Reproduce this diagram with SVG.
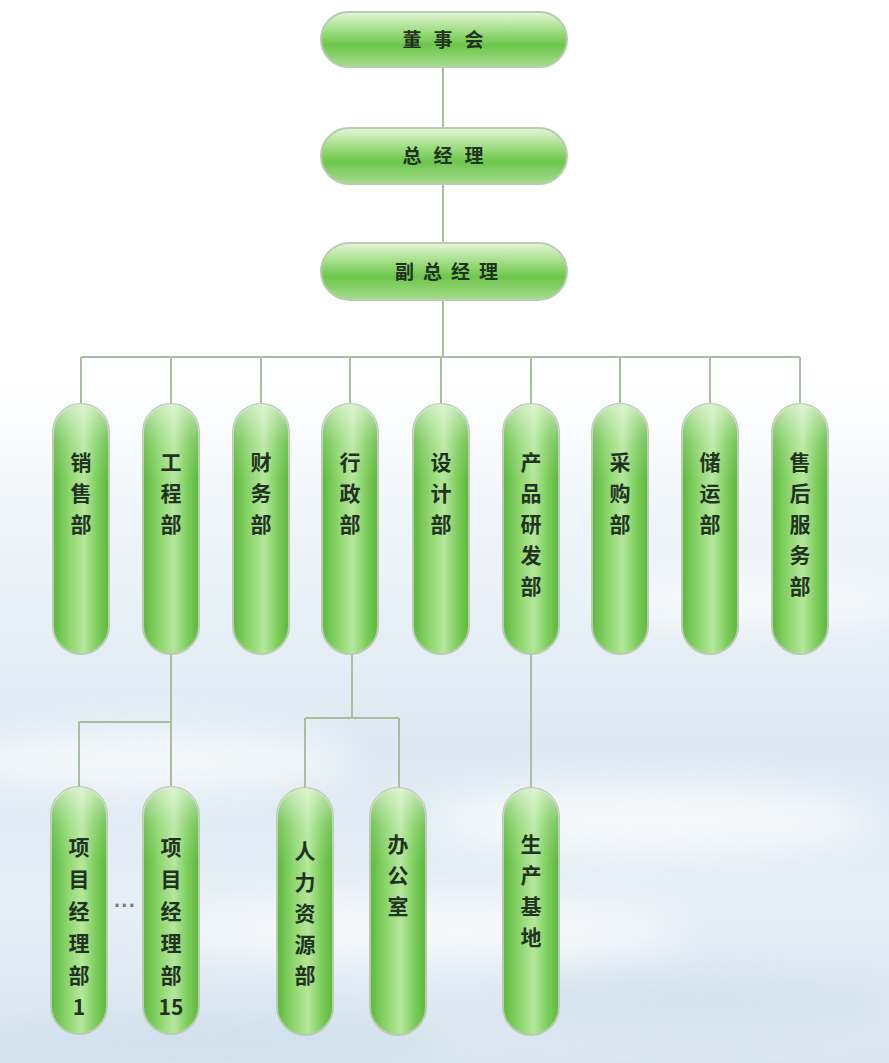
<svg xmlns="http://www.w3.org/2000/svg" width="889" height="1063" viewBox="0 0 889 1063">
<defs>
<linearGradient id="bg" x1="0" y1="0" x2="0" y2="1">
<stop offset="0" stop-color="#ffffff"/>
<stop offset="0.36" stop-color="#ffffff"/>
<stop offset="0.5" stop-color="#eef4f9"/>
<stop offset="0.7" stop-color="#dde9f2"/>
<stop offset="0.85" stop-color="#e6eef5"/>
<stop offset="1" stop-color="#d9e6f0"/>
</linearGradient>
<linearGradient id="hg" x1="0" y1="0" x2="0" y2="1">
<stop offset="0" stop-color="#e6f7dc"/>
<stop offset="0.3" stop-color="#a8e08c"/>
<stop offset="0.6" stop-color="#6cc64a"/>
<stop offset="1" stop-color="#a6dc8e"/>
</linearGradient>
<linearGradient id="vg" x1="0" y1="0" x2="1" y2="0">
<stop offset="0" stop-color="#5cb83e"/>
<stop offset="0.3" stop-color="#8ed66e"/>
<stop offset="0.55" stop-color="#b4e89c"/>
<stop offset="0.8" stop-color="#7ccc5a"/>
<stop offset="1" stop-color="#5cb83e"/>
</linearGradient>
<linearGradient id="vh" x1="0" y1="0" x2="0" y2="1">
<stop offset="0" stop-color="#ffffff" stop-opacity="0.55"/>
<stop offset="0.15" stop-color="#ffffff" stop-opacity="0.15"/>
<stop offset="0.3" stop-color="#ffffff" stop-opacity="0"/>
<stop offset="1" stop-color="#ffffff" stop-opacity="0"/>
</linearGradient>
<filter id="blur" x="-50%" y="-50%" width="200%" height="200%"><feGaussianBlur stdDeviation="18"/></filter>
</defs>
<style>
.h{fill:url(#hg);stroke:#b9ccb0;stroke-width:2}
.v{fill:url(#vg);stroke:#b9ccb0;stroke-width:2}
.vh{fill:url(#vh);stroke:none}
.t{font-family:"Noto Sans CJK SC","Noto Sans",sans-serif;font-weight:bold;font-size:21px;fill:#1f3320;text-anchor:middle}
.ht{font-family:"Noto Sans CJK SC","Noto Sans",sans-serif;font-weight:bold;font-size:19px;fill:#1f3320;text-anchor:middle;letter-spacing:12px}
.c{fill:none;stroke:#a9bda2;stroke-width:2}
.dots{font-family:"Liberation Sans",Arial,sans-serif;font-weight:bold;font-size:22px;fill:#7a8070;text-anchor:middle}
</style>
<rect x="0" y="0" width="889" height="1063" fill="url(#bg)"/>
<g opacity="0.7" filter="url(#blur)">
<ellipse cx="150" cy="760" rx="200" ry="30" fill="#ffffff"/>
<ellipse cx="650" cy="820" rx="220" ry="35" fill="#ffffff"/>
<ellipse cx="420" cy="930" rx="260" ry="30" fill="#ffffff"/>
<ellipse cx="750" cy="600" rx="160" ry="25" fill="#ffffff"/>
<ellipse cx="200" cy="1040" rx="240" ry="20" fill="#c8dbe9"/>
<ellipse cx="700" cy="1000" rx="200" ry="25" fill="#cfe0ec"/>
</g>
<g id="connectors">
<path class="c" d="M443 67V128M443 184V243M443 300V357M81 357H800"/>
<path class="c" d="M81 357V404M171 357V404M261 357V404M350 357V404M441 357V404M531 357V404M620 357V404M710 357V404M800 357V404"/>
<path class="c" d="M171 654V722M79 722H171M79 722V787M171 722V787"/>
<path class="c" d="M352 654V718M305 718H399M305 718V788M399 718V788"/>
<path class="c" d="M531 654V788"/>
</g>
<g id="n-dongshihui"><rect class="h" x="321" y="12" width="246" height="55" rx="27.5"/><text class="ht" x="449" y="47">董事会</text></g>
<g id="n-zongjingli"><rect class="h" x="321" y="128" width="246" height="56" rx="28"/><text class="ht" x="449" y="163">总经理</text></g>
<g id="n-fuzongjingli"><rect class="h" x="321" y="243" width="246" height="57" rx="28.5"/><text class="ht" x="451" y="279" style="letter-spacing:9px">副总经理</text></g>
<g id="n-xiaoshou"><rect class="v" x="53" y="404" width="56" height="250" rx="28"/><rect class="vh" x="53" y="404" width="56" height="250" rx="28"/><text class="t"><tspan x="81" y="470">销</tspan><tspan x="81" dy="31">售</tspan><tspan x="81" dy="31">部</tspan></text></g>
<g id="n-gongcheng"><rect class="v" x="143" y="404" width="56" height="250" rx="28"/><rect class="vh" x="143" y="404" width="56" height="250" rx="28"/><text class="t"><tspan x="171" y="470">工</tspan><tspan x="171" dy="31">程</tspan><tspan x="171" dy="31">部</tspan></text></g>
<g id="n-caiwu"><rect class="v" x="233" y="404" width="56" height="250" rx="28"/><rect class="vh" x="233" y="404" width="56" height="250" rx="28"/><text class="t"><tspan x="261" y="470">财</tspan><tspan x="261" dy="31">务</tspan><tspan x="261" dy="31">部</tspan></text></g>
<g id="n-xingzheng"><rect class="v" x="322" y="404" width="56" height="250" rx="28"/><rect class="vh" x="322" y="404" width="56" height="250" rx="28"/><text class="t"><tspan x="350" y="470">行</tspan><tspan x="350" dy="31">政</tspan><tspan x="350" dy="31">部</tspan></text></g>
<g id="n-sheji"><rect class="v" x="413" y="404" width="56" height="250" rx="28"/><rect class="vh" x="413" y="404" width="56" height="250" rx="28"/><text class="t"><tspan x="441" y="470">设</tspan><tspan x="441" dy="31">计</tspan><tspan x="441" dy="31">部</tspan></text></g>
<g id="n-chanpin"><rect class="v" x="503" y="404" width="56" height="250" rx="28"/><rect class="vh" x="503" y="404" width="56" height="250" rx="28"/><text class="t"><tspan x="531" y="470">产</tspan><tspan x="531" dy="31">品</tspan><tspan x="531" dy="31">研</tspan><tspan x="531" dy="31">发</tspan><tspan x="531" dy="31">部</tspan></text></g>
<g id="n-caigou"><rect class="v" x="592" y="404" width="56" height="250" rx="28"/><rect class="vh" x="592" y="404" width="56" height="250" rx="28"/><text class="t"><tspan x="620" y="470">采</tspan><tspan x="620" dy="31">购</tspan><tspan x="620" dy="31">部</tspan></text></g>
<g id="n-chuyun"><rect class="v" x="682" y="404" width="56" height="250" rx="28"/><rect class="vh" x="682" y="404" width="56" height="250" rx="28"/><text class="t"><tspan x="710" y="470">储</tspan><tspan x="710" dy="31">运</tspan><tspan x="710" dy="31">部</tspan></text></g>
<g id="n-shouhou"><rect class="v" x="772" y="404" width="56" height="250" rx="28"/><rect class="vh" x="772" y="404" width="56" height="250" rx="28"/><text class="t"><tspan x="800" y="470">售</tspan><tspan x="800" dy="31">后</tspan><tspan x="800" dy="31">服</tspan><tspan x="800" dy="31">务</tspan><tspan x="800" dy="31">部</tspan></text></g>
<g id="n-xiangmu1"><rect class="v" x="51" y="787" width="56" height="247" rx="28"/><rect class="vh" x="51" y="787" width="56" height="247" rx="28"/><text class="t"><tspan x="79" y="855">项</tspan><tspan x="79" dy="32">目</tspan><tspan x="79" dy="32">经</tspan><tspan x="79" dy="32">理</tspan><tspan x="79" dy="32">部</tspan><tspan x="79" dy="32">1</tspan></text></g>
<g id="n-ellipsis"><text class="dots" x="125" y="913">···</text></g>
<g id="n-xiangmu15"><rect class="v" x="143" y="787" width="56" height="247" rx="28"/><rect class="vh" x="143" y="787" width="56" height="247" rx="28"/><text class="t"><tspan x="171" y="855">项</tspan><tspan x="171" dy="32">目</tspan><tspan x="171" dy="32">经</tspan><tspan x="171" dy="32">理</tspan><tspan x="171" dy="32">部</tspan><tspan x="171" dy="32">15</tspan></text></g>
<g id="n-renli"><rect class="v" x="277" y="788" width="56" height="247" rx="28"/><rect class="vh" x="277" y="788" width="56" height="247" rx="28"/><text class="t"><tspan x="305" y="859">人</tspan><tspan x="305" dy="31">力</tspan><tspan x="305" dy="31">资</tspan><tspan x="305" dy="31">源</tspan><tspan x="305" dy="31">部</tspan></text></g>
<g id="n-bangongshi"><rect class="v" x="370" y="788" width="56" height="247" rx="28"/><rect class="vh" x="370" y="788" width="56" height="247" rx="28"/><text class="t"><tspan x="398" y="852">办</tspan><tspan x="398" dy="31">公</tspan><tspan x="398" dy="31">室</tspan></text></g>
<g id="n-shengchan"><rect class="v" x="503" y="788" width="56" height="247" rx="28"/><rect class="vh" x="503" y="788" width="56" height="247" rx="28"/><text class="t"><tspan x="531" y="852">生</tspan><tspan x="531" dy="31">产</tspan><tspan x="531" dy="31">基</tspan><tspan x="531" dy="31">地</tspan></text></g>
</svg>
